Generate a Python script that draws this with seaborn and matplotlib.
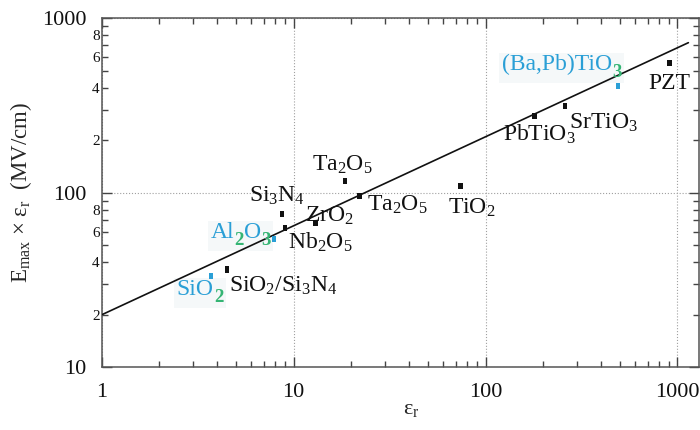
import math
import matplotlib
matplotlib.use("Agg")
import matplotlib.pyplot as plt
from matplotlib.patches import Rectangle
from matplotlib.ticker import FixedLocator, FixedFormatter, FuncFormatter, NullFormatter
import pandas as pd
import seaborn as sns

# Breakdown field times permittivity versus relative permittivity
materials = ["SiO2", "SiO2/Si3N4", "Al2O3", "Si3N4", "Nb2O5", "ZrO2",
             "Ta2O5 (a)", "Ta2O5 (b)", "TiO2", "PbTiO3", "SrTiO3",
             "(Ba,Pb)TiO3", "PZT"]
eps_r = [3.7, 4.5, 7.9, 8.7, 9.0, 13.0, 18.5, 22.0, 74.0, 180.0, 260.0, 490.0, 910.0]
e_times_eps = [33.4, 36.4, 54.6, 75.3, 63.0, 66.9, 117.0, 96.0, 109.0, 275.0, 314.0, 409.0, 556.0]
group = ["blue", "black", "blue", "black", "black", "black", "black", "black",
         "black", "black", "black", "blue", "black"]

# Power-law fit, E_max * eps_r ~ 20 * eps_r^0.51
fit_eps = [1.0, 1140.0]
fit_e_eps = [20.0, 725.0]

x_ticks = [1, 10, 100, 1000]
x_tick_labels = ["1", "10", "100", "1000"]
y_ticks = [10, 100, 1000]
y_tick_labels = ["10", "100", "1000"]

BLUE = "#2a9fd6"
GREEN = "#35b574"
INK = "#111111"

df = pd.DataFrame({"material": materials, "eps": eps_r, "val": e_times_eps, "group": group})
fit_df = pd.DataFrame({"eps": fit_eps, "val": fit_e_eps})

sns.set_theme(style="ticks")
plt.rcParams["font.family"] = ["Liberation Serif", "DejaVu Serif"]
plt.rcParams["mathtext.fontset"] = "custom"
plt.rcParams["mathtext.rm"] = "Liberation Serif"
plt.rcParams["mathtext.it"] = "Liberation Serif:italic"
plt.rcParams["mathtext.default"] = "regular"

DPI = 100
fig = plt.figure(figsize=(7.0, 4.3), dpi=DPI)
ax = fig.add_axes([0.1453, 0.1458, 0.8528, 0.8116])

ax.set_xscale("log")
ax.set_yscale("log")

# small upright rectangular marker
tall_box = [(-0.36, -0.5), (0.36, -0.5), (0.36, 0.5), (-0.36, 0.5), (-0.36, -0.5)]

sns.lineplot(data=fit_df, x="eps", y="val", ax=ax, color=INK, lw=1.2, zorder=3)
sns.scatterplot(data=df, x="eps", y="val", hue="group", palette={"black": INK, "blue": BLUE},
                marker=tall_box, s=20, linewidth=0, legend=False, ax=ax, zorder=4)

ax.set_xlim(1, 1290)
ax.set_ylim(10, 1000)

ax.xaxis.set_major_locator(FixedLocator(x_ticks))
ax.xaxis.set_major_formatter(FixedFormatter(x_tick_labels))
ax.xaxis.set_minor_locator(FixedLocator([m * 10 ** d for d in range(0, 3) for m in range(2, 10)]))
ax.xaxis.set_minor_formatter(NullFormatter())
ax.yaxis.set_major_locator(FixedLocator(y_ticks))
ax.yaxis.set_major_formatter(FixedFormatter(y_tick_labels))
ax.yaxis.set_minor_locator(FixedLocator([m * 10 ** d for d in range(1, 3) for m in range(2, 10)]))


def minor_label(v, pos):
    lead = int(round(v / 10 ** math.floor(math.log10(v))))
    return str(lead) if lead in (2, 4, 6, 8) else ""


ax.yaxis.set_minor_formatter(FuncFormatter(minor_label))

ax.tick_params(which="both", direction="in", top=True, right=True, colors="#444444", width=1.0)
ax.tick_params(which="major", length=7, labelsize=16, pad=11, labelcolor=INK)
ax.tick_params(axis="y", which="minor", length=4.3, labelsize=11, pad=1.5, labelcolor=INK)
ax.tick_params(axis="x", which="minor", length=4.3)

for sp in ax.spines.values():
    sp.set_color("#555555")
    sp.set_linewidth(1.1)

ax.grid(which="major", linestyle=":", color="#a0a0a0", lw=0.8)

ax.set_xlabel(r"$\varepsilon_r$", fontsize=16)
ax.set_ylabel(r"E$_{max}$ $\times$ $\varepsilon_r$  (MV/cm)", fontsize=16.5)
ax.xaxis.set_label_coords(0.518, -0.095)
ax.yaxis.set_label_coords(-0.113, 0.5)

LABEL_SIZE = 17

# plain black labels: (text, dx px, dy px to baseline)
black_labels = {
    "SiO2/Si3N4": (r"SiO$_2$/Si$_3$N$_4$", 2, -22),
    "Si3N4": (r"Si$_3$N$_4$", -33, 13),
    "Nb2O5": (r"Nb$_2$O$_5$", 3, -21),
    "ZrO2": (r"ZrO$_2$", -10, 2),
    "Ta2O5 (a)": (r"Ta$_2$O$_5$", -33, 10),
    "Ta2O5 (b)": (r"Ta$_2$O$_5$", 8, -15),
    "TiO2": (r"TiO$_2$", -12, -27),
    "PbTiO3": (r"PbTiO$_3$", -32, -25),
    "SrTiO3": (r"SrTiO$_3$", 4, -23),
    "PZT": ("PZT", -21, -26),
}

for name, (txt, dx, dy) in black_labels.items():
    row = df[df.material == name].iloc[0]
    ax.annotate(txt, xy=(row.eps, row.val), xytext=(dx, dy), textcoords="offset pixels",
                ha="left", va="baseline", fontsize=LABEL_SIZE, color=INK, zorder=5)

# two-colour labels: pieces of (text, is_subscript)
color_labels = {
    "SiO2": ([("SiO", False), ("2", True)], -34, -19),
    "Al2O3": ([("Al", False), ("2", True), ("O", False), ("3", True)], -63, 1),
    "(Ba,Pb)TiO3": ([("(Ba,Pb)TiO", False), ("3", True)], -116, 16),
}

fig.canvas.draw()
renderer = fig.canvas.get_renderer()
for name, (pieces, dx, dy) in color_labels.items():
    row = df[df.material == name].iloc[0]
    cur = dx
    extents = []
    for txt, is_sub in pieces:
        t = ax.annotate(txt, xy=(row.eps, row.val), xytext=(cur, dy - 7 if is_sub else dy),
                        textcoords="offset pixels", ha="left", va="baseline",
                        fontsize=LABEL_SIZE * 0.8 if is_sub else LABEL_SIZE,
                        color=GREEN if is_sub else BLUE,
                        fontweight="bold" if is_sub else "normal", zorder=5)
        bb = t.get_window_extent(renderer)
        extents.append(bb)
        cur += bb.width
    x0 = min(b.x0 for b in extents) - 3
    x1 = max(b.x1 for b in extents) + 3
    y0 = min(b.y0 for b in extents) - 2
    y1 = max(b.y1 for b in extents) + 1
    ax.add_patch(Rectangle((x0, y0), x1 - x0, y1 - y0, transform=None,
                           facecolor="#f5f8f9", edgecolor="none", zorder=2))

fig.savefig("out.png", dpi=DPI)
